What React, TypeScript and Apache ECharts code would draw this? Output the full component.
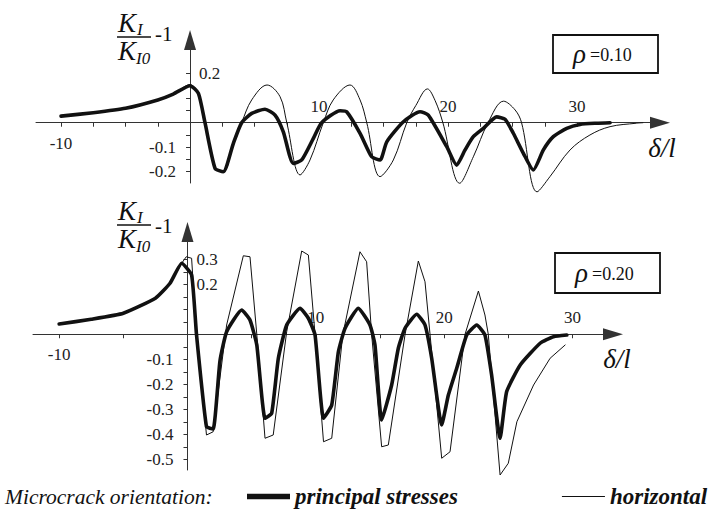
import React, { useEffect, useRef } from "react";
import * as echarts from "echarts";

// ---------- data ----------
// upper panel: rho = 0.10
const topPrincipalX = [-10, -7.5, -5, -2.5, -1.3, 0, 0.65, 1.16, 1.94, 2.58, 3.36, 4.0, 4.78, 5.81, 6.59, 7.23, 8.0, 8.66, 9.56, 10.2, 11.63, 12.14, 13.18, 14.08, 14.73, 15.25, 16.54, 17.83, 18.47, 19.9, 20.67, 21.32, 21.96, 22.74, 23.77, 24.42, 25.06, 25.84, 26.61, 27.39, 28.16, 29.2, 30.23, 31.5, 32.56];
const topPrincipalY = [0.027, 0.041, 0.059, 0.093, 0.117, 0.151, 0.12, 0, -0.186, -0.2, -0.084, 0, 0.038, 0.055, 0.031, -0.037, -0.166, -0.152, -0.064, 0, 0.049, 0.045, -0.043, -0.139, -0.152, -0.078, 0.004, 0.045, 0.031, -0.098, -0.173, -0.111, -0.057, -0.023, 0.024, 0.014, -0.043, -0.125, -0.193, -0.111, -0.057, -0.023, -0.007, -0.002, 0];
const topHorizontalX = [-10, -7.5, -5, -2.5, -1.3, 0, 0.65, 1.16, 1.94, 2.58, 3.36, 4.0, 4.78, 5.97, 6.98, 7.5, 8.53, 9.3, 10.33, 11.1, 12.4, 13.18, 13.7, 14.73, 15.76, 16.8, 17.5, 18.4, 19.0, 19.6, 20.9, 21.96, 23.1, 24.3, 25.2, 25.7, 26.9, 27.9, 29.46, 31.0, 32.56, 34.6, 35.1];
const topHorizontalY = [0.027, 0.041, 0.059, 0.093, 0.117, 0.155, 0.12, 0, -0.186, -0.2, -0.084, 0, 0.093, 0.154, 0.106, 0, -0.213, -0.152, 0, 0.093, 0.154, 0.093, 0, -0.22, -0.152, 0, 0.07, 0.138, 0.09, 0, -0.247, -0.139, 0, 0.088, 0.052, 0, -0.282, -0.22, -0.111, -0.05, -0.016, -0.002, 0];

// lower panel: rho = 0.20
const botPrincipalX = [-10, -7.5, -5, -2.5, -1.36, -0.45, 0.32, 0.7, 1.48, 2.0, 2.53, 3.05, 4.22, 4.87, 5.4, 6.04, 6.56, 7.08, 7.73, 8.77, 9.42, 9.94, 10.6, 11.24, 11.76, 12.28, 13.31, 14.22, 14.61, 15.13, 15.91, 16.43, 16.95, 17.86, 18.51, 19.03, 19.81, 20.33, 20.98, 21.76, 22.54, 23.18, 23.7, 24.36, 24.87, 25.93, 27.48, 28.52, 29.56];
const botPrincipalY = [0.041, 0.06, 0.084, 0.144, 0.204, 0.284, 0.237, 0, -0.37, -0.379, -0.107, 0.01, 0.097, 0.057, -0.043, -0.336, -0.316, -0.096, 0.037, 0.104, 0.064, -0.003, -0.336, -0.283, -0.07, 0.024, 0.104, 0.037, -0.043, -0.343, -0.203, -0.056, 0.024, 0.08, 0.037, -0.096, -0.363, -0.243, -0.136, -0.003, 0.037, -0.003, -0.163, -0.416, -0.23, -0.123, -0.036, -0.01, -0.003];
const botHorizontalX = [-10, -7.5, -5, -2.5, -1.36, -0.45, -0.1, 0.32, 0.7, 1.48, 2.0, 3.05, 4.35, 4.87, 5.4, 6.04, 6.68, 7.73, 8.9, 9.42, 9.94, 10.6, 11.24, 12.1, 13.44, 13.96, 14.35, 15.13, 15.65, 16.95, 17.99, 18.51, 18.9, 19.81, 20.46, 21.63, 22.67, 23.18, 23.44, 24.36, 25.0, 25.67, 26.97, 28.26, 29.43];
const botHorizontalY = [0.041, 0.06, 0.084, 0.144, 0.204, 0.284, 0.31, 0.304, 0, -0.403, -0.39, 0.037, 0.314, 0.31, 0, -0.416, -0.403, 0.01, 0.333, 0.317, 0, -0.43, -0.416, -0.003, 0.33, 0.29, 0, -0.45, -0.443, -0.003, 0.293, 0.21, 0, -0.496, -0.47, 0, 0.173, 0.077, 0, -0.563, -0.516, -0.35, -0.203, -0.096, -0.043];

// ticks and tick labels
const topXTicks = [-10, -7.5, -5, -2.5, 0, 2.5, 5, 7.5, 10, 12.5, 15, 17.5, 20, 22.5, 25, 27.5, 30];
const topXNegLabels = [-10];
const topXPosLabels = [10, 20, 30];
const topYTicks = [-0.2, -0.15, -0.1, -0.05, 0.05, 0.1, 0.15, 0.2];
const topYNegLabels = [-0.1, -0.2];
const topYPosLabels = [0.2];

const botXTicks = [-10, -5, 0, 5, 10, 15, 20, 25, 30];
const botXNegLabels = [-10];
const botXPosLabels = [10, 20, 30];
const botYTicks = [-0.5, -0.45, -0.4, -0.35, -0.3, -0.25, -0.2, -0.15, -0.1, -0.05, 0.05, 0.1, 0.15, 0.2, 0.25, 0.3];
const botYNegLabels = [-0.1, -0.2, -0.3, -0.4, -0.5];
const botYPosLabels = [0.3, 0.2];

const seriesNames = ["principal stresses", "horizontal"];
const rhoLabels = ["=0.10", "=0.20"];

// ---------- layout ----------
const TOP = { left: 36, top: 40, width: 624, height: 143, xMin: -11.94, xMax: 36.43, yMin: -0.246, yMax: 0.3376 };
const BOT = { left: 33, top: 232, width: 580, height: 238, xMin: -12.04, xMax: 33.16, yMin: -0.543, yMax: 0.409 };

// ---------- styling helpers ----------
const FONT = '"Liberation Serif", "Times New Roman", serif';
const INK = "#111";
const AXIS = "#333";

const pairs = (xs: number[], ys: number[]) => xs.map((x, i) => [x, ys[i]]);

const labelStyle = { fontFamily: FONT, fontSize: 17, color: "#222" };

// offsets that put an axis (drawn at the grid edge) onto the other axis' zero
const xOffset = (g: any) => -(g.height * (0 - g.yMin)) / (g.yMax - g.yMin);
const yOffset = (g: any) => -(g.width * (0 - g.xMin)) / (g.xMax - g.xMin);

function mainX(grid: number, g: any, ticks: number[], labels: number[]) {
  return {
    type: "value", gridIndex: grid, min: g.xMin, max: g.xMax, position: "bottom", offset: xOffset(g),
    splitLine: { show: false },
    axisLine: { show: true, onZero: false, symbol: ["none", "triangle"], symbolSize: [12, 20], lineStyle: { color: AXIS, width: 1 } },
    axisTick: { show: true, customValues: ticks, length: 4, lineStyle: { color: AXIS } },
    axisLabel: { ...labelStyle, customValues: labels, margin: 12, formatter: (v: number) => String(v) },
  };
}
function posX(grid: number, g: any, labels: number[]) {
  return {
    type: "value", gridIndex: grid, min: g.xMin, max: g.xMax, position: "bottom", offset: xOffset(g),
    splitLine: { show: false },
    axisLine: { show: false, onZero: false },
    axisTick: { show: false },
    axisLabel: { ...labelStyle, inside: true, customValues: labels, margin: 8, formatter: (v: number) => String(v) },
  };
}
function mainY(grid: number, g: any, ticks: number[], labels: number[]) {
  return {
    type: "value", gridIndex: grid, min: g.yMin, max: g.yMax, position: "left", offset: yOffset(g),
    splitLine: { show: false },
    axisLine: { show: true, onZero: false, symbol: ["none", "triangle"], symbolSize: [12, 20], lineStyle: { color: AXIS, width: 1 } },
    axisTick: { show: true, customValues: ticks, length: 4, lineStyle: { color: AXIS } },
    axisLabel: { ...labelStyle, customValues: labels, margin: 14, formatter: (v: number) => v.toFixed(1) },
  };
}
function posY(grid: number, g: any, labels: number[]) {
  return {
    type: "value", gridIndex: grid, min: g.yMin, max: g.yMax, position: "left", offset: yOffset(g),
    splitLine: { show: false },
    axisLine: { show: false, onZero: false },
    axisTick: { show: false },
    axisLabel: { ...labelStyle, inside: true, customValues: labels, margin: 9, formatter: (v: number) => v.toFixed(1) },
  };
}

function txt(x: number, y: number, text: string, size: number, italic: boolean, align = "left", bold = false) {
  return {
    type: "text", x, y, silent: true,
    style: {
      text, fill: INK,
      font: `${italic ? "italic " : ""}${bold ? "bold " : ""}${size}px ${FONT}`,
      align, textAlign: align, verticalAlign: "middle", textVerticalAlign: "middle",
    },
  };
}

function fraction(dy: number, dMinus: number) {
  return [
    txt(118, 23 + dy, "K", 27, true),
    txt(137, 29 + dy, "I", 17, true),
    { type: "line", silent: true, shape: { x1: 117, y1: 37 + dy, x2: 151, y2: 37 + dy }, style: { stroke: INK, lineWidth: 1.5 } },
    txt(118, 51 + dy, "K", 27, true),
    txt(136, 58 + dy, "I0", 17, true),
    txt(155, 34 + dy + dMinus, "-1", 21, false),
  ];
}

function rhoBox(x: number, y: number, w: number, h: number, label: string) {
  return [
    { type: "rect", silent: true, shape: { x, y, width: w, height: h }, style: { fill: "#fff", stroke: INK, lineWidth: 1.8 } },
    txt(x + 20, y + h / 2, "\u03C1", 27, true),
    txt(x + 37, y + h / 2 + 1, label, 18, false),
  ];
}

function lineSeries(name: string, xi: number, yi: number, data: number[][], thick: boolean, smooth: number | boolean) {
  return {
    type: "line", name, xAxisIndex: xi, yAxisIndex: yi, data,
    showSymbol: false, symbol: "none", clip: false, smooth,
    z: thick ? 3 : 2,
    itemStyle: { color: INK },
    lineStyle: { color: INK, width: thick ? 3.6 : 1, cap: "round", join: "round" },
  };
}

export default function App() {
  const ref = useRef<HTMLDivElement | null>(null);

  useEffect(() => {
    if (!ref.current) return;
    const chart = echarts.init(ref.current, null, { renderer: "svg" });

    const option: any = {
      animation: false,
      backgroundColor: "#fff",
      textStyle: { fontFamily: FONT },
      grid: [
        { left: TOP.left, top: TOP.top, width: TOP.width, height: TOP.height, containLabel: false, outerBoundsMode: "none" },
        { left: BOT.left, top: BOT.top, width: BOT.width, height: BOT.height, containLabel: false, outerBoundsMode: "none" },
      ],
      xAxis: [
        mainX(0, TOP, topXTicks, topXNegLabels),
        posX(0, TOP, topXPosLabels),
        mainX(1, BOT, botXTicks, botXNegLabels),
        posX(1, BOT, botXPosLabels),
      ],
      yAxis: [
        mainY(0, TOP, topYTicks, topYNegLabels),
        posY(0, TOP, topYPosLabels),
        mainY(1, BOT, botYTicks, botYNegLabels),
        posY(1, BOT, botYPosLabels),
      ],
      legend: {
        left: 247, top: 485, padding: 0, itemWidth: 43, itemHeight: 14, itemGap: 104,
        selectedMode: false,
        textStyle: { fontFamily: FONT, fontSize: 23, fontStyle: "italic", fontWeight: "bold", color: INK },
        data: [
          { name: seriesNames[0], icon: "path://M0 0H40V5H0Z", itemStyle: { color: INK } },
          { name: seriesNames[1], icon: "path://M0 0H40V1H0Z", itemStyle: { color: INK } },
        ],
      },
      series: [
        lineSeries(seriesNames[1], 0, 0, pairs(topHorizontalX, topHorizontalY), false, 0.35),
        lineSeries(seriesNames[0], 0, 0, pairs(topPrincipalX, topPrincipalY), true, 0.2),
        lineSeries(seriesNames[1], 2, 2, pairs(botHorizontalX, botHorizontalY), false, false),
        lineSeries(seriesNames[0], 2, 2, pairs(botPrincipalX, botPrincipalY), true, 0.15),
      ],
      graphic: [
        ...fraction(0, 0),
        ...fraction(188, 4),
        ...rhoBox(553, 35, 105, 38, rhoLabels[0]),
        ...rhoBox(555, 253, 105, 40, rhoLabels[1]),
        txt(662, 148, "\u03B4/l", 27, true, "center"),
        txt(617, 359, "\u03B4/l", 27, true, "center"),
        txt(5, 497, "Microcrack orientation:", 21.5, true),
      ],
    };

    chart.setOption(option);
    return () => chart.dispose();
  }, []);

  return (
    <div
      ref={ref}
      style={{ position: "absolute", left: 0, top: 0, width: 723, height: 514, background: "#fff" }}
    />
  );
}
